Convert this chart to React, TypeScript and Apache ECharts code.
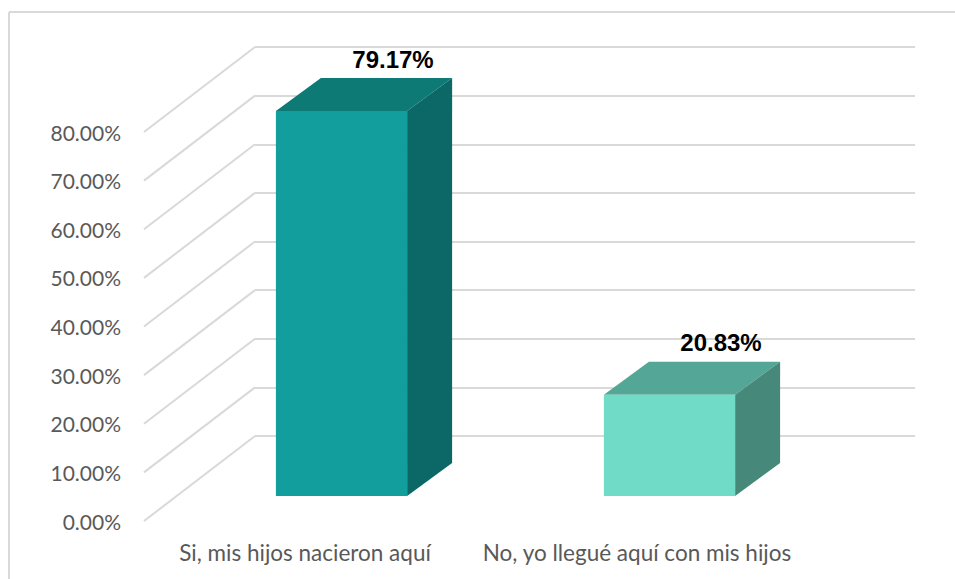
import React, { useEffect, useRef } from "react";
import * as echarts from "echarts";

const categories = ["Si, mis hijos nacieron aquí", "No, yo llegué aquí con mis hijos"];
const values = [79.17, 20.83];
const yTicks = [0, 10, 20, 30, 40, 50, 60, 70, 80];
const frontColors = ["#129e9c", "#70dcc8"];
const topColors = ["#0e7a75", "#54a797"];
const sideColors = ["#0c6866", "#46897b"];

const GRID_LINE = "#d9d9d9";
const TEXT = "#595959";
const DEPTH_X = 45;
const DEPTH_Y = -33;
const WALL_X = 111;
const WALL_Y = 85;

function renderBar(params: any, api: any) {
  const i = api.value(0);
  const v = api.value(1);
  const [cx, yTop] = api.coord([i, v]);
  const [, yBase] = api.coord([i, 0]);
  const w = api.size([1, 0])[0] * 0.4;
  const l = cx - w / 2;
  const r = cx + w / 2;
  return {
    type: "group",
    children: [
      { type: "polygon", shape: { points: [[l, yTop], [r, yTop], [r + DEPTH_X, yTop + DEPTH_Y], [l + DEPTH_X, yTop + DEPTH_Y]] }, style: { fill: topColors[i] } },
      { type: "polygon", shape: { points: [[r, yTop], [r + DEPTH_X, yTop + DEPTH_Y], [r + DEPTH_X, yBase + DEPTH_Y], [r, yBase]] }, style: { fill: sideColors[i] } },
      { type: "rect", shape: { x: l, y: yTop, width: w, height: yBase - yTop }, style: { fill: frontColors[i] } },
      {
        type: "text",
        x: cx + 51.5,
        y: yTop - 52,
        style: {
          text: v.toFixed(2) + "%",
          fill: "#000000",
          font: 'bold 24px "Liberation Sans", Arial, sans-serif',
          align: "center",
          verticalAlign: "middle",
        },
      },
    ],
  };
}

function renderDiagonal(params: any, api: any) {
  const yBack = api.coord([0, api.value(0)])[1];
  const xBack = params.coordSys.x;
  return {
    type: "line",
    shape: { x1: xBack, y1: yBack, x2: xBack - WALL_X, y2: yBack + WALL_Y },
    style: { stroke: GRID_LINE, lineWidth: 2, fill: "none" },
  };
}

export default function App() {
  const ref = useRef<HTMLDivElement>(null);
  useEffect(() => {
    document.body.style.margin = "0";
    document.body.style.background = "#ffffff";
    const chart = echarts.init(ref.current!, null, { renderer: "svg" });
    const hiddenCat = { type: "category", data: categories, show: false };
    const hiddenVal = { type: "value", min: 0, max: 80, interval: 10, show: false };
    chart.setOption({
      animation: false,
      backgroundColor: "#ffffff",
      grid: [
        { left: 139, top: 132, width: 664, height: 389 },
        { left: 255, top: 47, width: 660, height: 389 },
        { left: 177.5, top: 107, width: 656, height: 389 },
      ],
      xAxis: [
        {
          type: "category",
          data: categories,
          gridIndex: 0,
          axisLine: { show: false },
          axisTick: { show: false },
          axisLabel: { color: TEXT, fontFamily: "Lato", fontSize: 22.5, margin: 20, interval: 0, hideOverlap: false },
        },
        { ...hiddenCat, gridIndex: 1 },
        { ...hiddenCat, gridIndex: 2 },
      ],
      yAxis: [
        {
          type: "value",
          gridIndex: 0,
          min: 0,
          max: 80,
          interval: 10,
          axisLine: { show: false },
          axisTick: { show: false },
          splitLine: { show: false },
          axisLabel: {
            color: TEXT,
            fontFamily: "Lato",
            fontSize: 21,
            margin: 18,
            formatter: (v: number) => v.toFixed(2) + "%",
          },
        },
        {
          type: "value",
          gridIndex: 1,
          min: 0,
          max: 80,
          interval: 10,
          axisLine: { show: false },
          axisTick: { show: false },
          axisLabel: { show: false },
          splitLine: { show: true, lineStyle: { color: GRID_LINE, width: 2 } },
        },
        { ...hiddenVal, gridIndex: 2 },
      ],
      graphic: [
        { type: "line", shape: { x1: 9, y1: 12, x2: 955, y2: 12 }, style: { stroke: GRID_LINE, lineWidth: 2 } },
        { type: "line", shape: { x1: 9, y1: 12, x2: 9, y2: 579 }, style: { stroke: GRID_LINE, lineWidth: 2 } },
      ],
      series: [
        {
          type: "custom",
          xAxisIndex: 1,
          yAxisIndex: 1,
          z: 2,
          silent: true,
          clip: false,
          encode: { y: 0 },
          data: yTicks.map((t) => [t]),
          dimensions: ["tick"],
          renderItem: renderDiagonal,
        },
        {
          type: "custom",
          xAxisIndex: 2,
          yAxisIndex: 2,
          z: 3,
          silent: true,
          clip: false,
          encode: { x: 0, y: 1 },
          data: values.map((v, i) => [i, v]),
          renderItem: renderBar,
        },
      ],
    });
    return () => chart.dispose();
  }, []);
  return <div ref={ref} style={{ width: 955, height: 579, position: "absolute", left: 0, top: 0 }} />;
}
